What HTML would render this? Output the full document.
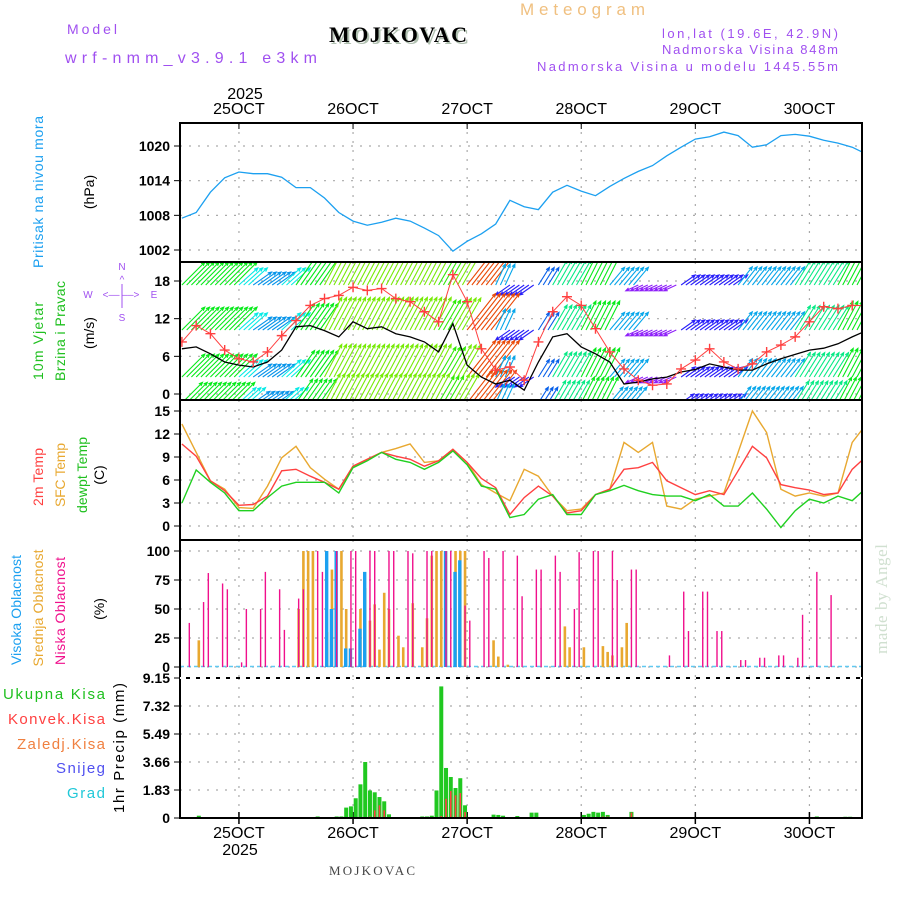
<!DOCTYPE html>
<html><head><meta charset="utf-8"><style>
html,body{margin:0;padding:0;background:#fff;}
svg{display:block;}
text{font-family:"Liberation Sans",sans-serif;}
</style></head><body>
<svg id="chart" width="900" height="900" viewBox="0 0 900 900" xmlns="http://www.w3.org/2000/svg">
<rect width="900" height="900" fill="#fff"/>
<text x="520" y="15" font-size="17" fill="#f0c080" textLength="125">Meteogram</text>
<text x="67" y="34" font-size="14" fill="#a050f0" textLength="50">Model</text>
<text x="65" y="63" font-size="16" fill="#a050f0" textLength="252">wrf-nmm_v3.9.1 e3km</text>
<text x="331" y="44" font-size="22" font-weight="bold" fill="#b0c0b0" style="font-family:'Liberation Serif',serif" textLength="138">MOJKOVAC</text>
<text x="329" y="42" font-size="22" font-weight="bold" fill="#000" style="font-family:'Liberation Serif',serif" textLength="138">MOJKOVAC</text>
<text x="838" y="38" font-size="13" fill="#a050f0" text-anchor="end" textLength="176">lon,lat (19.6E, 42.9N)</text>
<text x="838" y="54" font-size="13" fill="#a050f0" text-anchor="end" textLength="176">Nadmorska Visina 848m</text>
<text x="838" y="71" font-size="13" fill="#a050f0" text-anchor="end" textLength="301">Nadmorska Visina u modelu 1445.55m</text>
<text x="245" y="99" font-size="16" text-anchor="middle">2025</text>
<text x="240" y="855" font-size="16" text-anchor="middle">2025</text>
<text x="372" y="875" font-size="13" fill="#444" text-anchor="middle" style="font-family:'Liberation Serif',serif" textLength="86">MOJKOVAC</text>
<text transform="translate(887,654) rotate(-90)" font-size="17" fill="#d0e0d0" style="font-family:'Liberation Serif',serif" textLength="110">made by Angel</text>

<text transform="translate(43,192) rotate(-90)" font-size="14" fill="#1ca0f0" text-anchor="middle" textLength="152">Pritisak na nivou mora</text>
<text transform="translate(94,192) rotate(-90)" font-size="14" text-anchor="middle">(hPa)</text>
<text transform="translate(43,341) rotate(-90)" font-size="14" fill="#20c020" text-anchor="middle" textLength="78">10m Vjetar</text>
<text transform="translate(65,331) rotate(-90)" font-size="14" fill="#20c020" text-anchor="middle" textLength="100">Brzina i Pravac</text>
<text transform="translate(94,333) rotate(-90)" font-size="14" text-anchor="middle">(m/s)</text>
<g fill="#a050f0" font-size="10">
<text x="122" y="270" text-anchor="middle">N</text>
<text x="122" y="321" text-anchor="middle">S</text>
<text x="88" y="298" text-anchor="middle">W</text>
<text x="154" y="298" text-anchor="middle">E</text>
<text x="121" y="298" text-anchor="middle">&lt;–– ––&gt;</text>
<text x="122" y="283" text-anchor="middle">^</text>
<line x1="122" y1="284" x2="122" y2="308" stroke="#a050f0" stroke-width="1"/>
</g>
<text transform="translate(43,477) rotate(-90)" font-size="14" fill="#ff4040" text-anchor="middle" textLength="58">2m Temp</text>
<text transform="translate(65,475) rotate(-90)" font-size="14" fill="#e8a830" text-anchor="middle" textLength="64">SFC Temp</text>
<text transform="translate(87,475) rotate(-90)" font-size="14" fill="#20c020" text-anchor="middle" textLength="76">dewpt Temp</text>
<text transform="translate(104,475) rotate(-90)" font-size="14" text-anchor="middle">(C)</text>
<text transform="translate(21,610) rotate(-90)" font-size="14" fill="#1ca0f0" text-anchor="middle" textLength="110">Visoka Oblacnost</text>
<text transform="translate(43,608) rotate(-90)" font-size="14" fill="#e8a830" text-anchor="middle" textLength="117">Srednja Oblacnost</text>
<text transform="translate(65,611) rotate(-90)" font-size="14" fill="#f0108c" text-anchor="middle" textLength="108">Niska Oblacnost</text>
<text transform="translate(104,609) rotate(-90)" font-size="14" text-anchor="middle">(%)</text>
<text x="105" y="699" font-size="15" fill="#20c020" text-anchor="end" textLength="102">Ukupna Kisa</text>
<text x="105" y="724" font-size="15" fill="#ff4040" text-anchor="end" textLength="97">Konvek.Kisa</text>
<text x="105" y="749" font-size="15" fill="#f08040" text-anchor="end" textLength="88">Zaledj.Kisa</text>
<text x="105" y="773" font-size="15" fill="#5050f0" text-anchor="end" textLength="49">Snijeg</text>
<text x="105" y="798" font-size="15" fill="#20c8d8" text-anchor="end" textLength="38">Grad</text>
<text transform="translate(124,748) rotate(-90)" font-size="15" text-anchor="middle" textLength="130">1hr Precip (mm)</text>
<g id="plot"></g>
</svg>
<script>
// ---- data (3-hourly, starting 24 OCT 12 UTC) ----
const dayLabels = ["25OCT","26OCT","27OCT","28OCT","29OCT","30OCT"];
const pressure = [1007.5,1008.5,1012,1014.5,1015.5,1015.2,1015.2,1014.6,1012.8,1012.8,1011,1008.5,1007,1006.3,1006.8,1007.5,1007,1005.8,1004.5,1001.8,1003.5,1004.8,1006.5,1010.6,1009.5,1009,1012,1013.2,1012.2,1011.4,1013,1014.4,1015.6,1016.6,1018.3,1019.8,1021.2,1021.6,1022.4,1021.8,1019.8,1020.2,1021.8,1022,1021.7,1021,1020.5,1019.8,1018.6];
const pressureTicks = [1002,1008,1014,1020];
const windSpeed = [7.2,7.5,6.4,5.1,4.6,4.3,5.1,7.0,10.7,10.9,10.1,9.1,11.5,10.4,10.7,9.6,9.1,8.3,6.7,11.2,4.6,2.7,1.6,2.2,0.6,5.1,9.1,9.6,7.5,6.4,5.1,1.6,1.9,2.4,2.7,3.5,3.9,4.8,4.3,3.8,3.8,4.8,5.6,6.3,7.0,7.3,8.0,9.1,10.1];
const windGust = [8.3,10.9,9.6,7.0,5.6,5.1,6.7,9.3,11.7,14.1,15.2,15.7,17.0,16.5,16.8,15.2,14.7,13.1,11.5,19.0,14.7,7.2,3.8,4.3,2.2,8.3,13.1,15.5,14.1,10.4,6.7,4.0,2.2,1.4,1.6,4.0,5.4,7.2,5.1,4.0,4.8,6.7,7.8,9.1,11.5,13.9,13.6,14.1,14.1];
const arrowDir = [45,45,45,45,48,55,55,48,35,35,28,28,28,28,28,28,28,28,30,30,38,38,25,235,235,32,30,30,27,27,40,40,245,245,245,55,55,55,55,38,38,38,38,32,32,32,28,28,28];
const arrowSpd = [10.8,10.8,10.8,10.8,8.5,7.5,7.5,8.5,10.8,10.8,12.3,12.3,12.3,12.3,12.3,12.3,12.3,12.3,11.5,12.3,15.4,15.4,7.7,5.8,5.8,6.9,9.6,9.6,10.8,10.8,7.7,7.7,4.6,4.6,4.6,5.8,5.8,5.8,5.8,7.7,7.7,7.7,7.7,9.6,9.6,9.6,10.8,10.8,10.8];
const windTicks = [0,6,12,18];
const temp2m = [10.7,9.1,5.9,4.6,2.7,2.8,3.9,7.2,7.4,6.5,5.7,4.8,7.8,8.7,9.6,9.1,8.7,7.8,8.5,10,8.3,6.2,5.0,1.5,3.7,5.2,3.9,1.7,2.0,4.1,4.8,7.4,7.6,8.3,5.9,5.0,4.1,4.6,4.1,7.2,10.4,8.9,5.4,5.0,4.7,4.1,4.3,7.4,9.1];
const tempSfc = [13.3,9.6,5.9,4.8,2.4,2.3,5.2,8.9,10.4,7.6,6.1,4.8,7.8,8.7,9.6,10.1,10.7,8.3,8.5,10,8.3,5.4,4.3,3.3,7.4,6.5,3.9,2.0,2.2,4.1,4.8,10.9,9.6,10.9,2.6,2.2,3.5,3.9,4.3,9.6,15,12.2,4.8,3.9,4.3,3.9,4.3,10.9,13.3];
const tempDew = [3.0,7.3,5.7,4.3,2.0,2.0,3.7,5.2,5.7,5.7,5.7,4.3,7.6,8.5,9.6,8.7,8.3,7.4,8.3,9.8,8.0,5.2,4.8,1.1,1.5,3.5,4.1,1.5,1.5,4.1,4.6,5.3,4.6,4.1,3.9,3.9,3.3,4.1,2.6,2.6,4.3,2.2,-0.2,2.0,3.5,3.0,3.9,3.3,5.0];
const tempTicks = [0,3,6,9,12,15];
// ---- cloud (hourly index, percent) ----
const lowHour = [2,5,6,9,10,13,14,17,18,21,22,25,26,29,30,33,36,37,40,41,44,45,48,49,52,53,56,57,60,61,64,65,68,71,72,75,76,79,80,83,84,87,88,91,92,95,96,103,106,107,110,111,113,114,118,119,122,123,126,127,130,131,134,137];
const lowPct = [38,56,81,72,67,4,50,50,82,67,32,59,67,100,82,100,100,100,100,100,100,100,100,98,100,100,100,100,53,40,100,94,100,96,61,84,84,96,82,50,99,100,100,100,75,84,84,10,65,31,65,65,31,31,6,6,8,8,10,10,8,45,82,62];
const midHour = [4,25,26,27,28,31,32,34,35,38,39,40,41,42,43,44,46,47,49,51,52,53,54,55,56,58,59,60,66,67,69,81,82,85,89,90,91,93,94];
const midPct = [23,50,100,100,100,30,84,100,50,50,68,40,54,15,64,50,27,17,55,17,42,96,100,100,100,100,100,100,23,9,2,35,17,17,18,13,10,17,38];
const highHour = [31,32,33,35,36,38,39,56,58,59];
const highPct = [100,50,100,16,16,33,82,100,82,92];
const cloudTicks = [0,25,50,75,100];
// ---- precipitation (hourly index, mm) ----
const rainHour = [4,29,32,33,34,35,36,37,38,39,40,41,42,43,44,51,52,53,54,55,56,57,58,59,60,66,67,68,71,74,75,85,86,87,88,89,90,95,134,140,141];
const rainTotal = [0.15,0.1,0.05,0.1,0.1,0.68,0.76,1.29,2.2,3.66,1.8,1.68,1.37,1.09,0.24,0.1,0.1,0.15,1.8,8.6,3.27,2.68,1.96,2.6,0.83,0.22,0.2,0.15,0.13,0.35,0.35,0.2,0.28,0.4,0.35,0.4,0.2,0.4,0.1,0.08,0.08];
const convHour = [40,41,42,43,55,56,57,58,59,60,89,90,95];
const convTotal = [0.1,0.5,0.83,0.5,0.13,1.26,1.76,1.48,1.63,0.39,0.1,0.1,0.35];
const precipTicks = [0,1.83,3.66,5.49,7.32,9.15];

// ---- scales ----
const X0=180, X1=862;
function xH(h){return 181.9+h*4.754;}
function xC(h){return 179.8+h*4.754;}
function yP(v){return 146+(1020-v)*34.67/6;}
function yW(v){return 394-v*113/18;}
function yT(v){return 526-v*115/15;}
function yC(v){return 667-v*1.16;}
function yR(v){return 818-v*140/9.15;}
const NS="http://www.w3.org/2000/svg";
const plot=document.getElementById('plot');
function el(tag,attrs,parent){const e=document.createElementNS(NS,tag);for(const k in attrs)e.setAttribute(k,attrs[k]);(parent||plot).appendChild(e);return e;}

const panels=[
 {name:'pressure-panel',y0:123,y1:262,ticks:pressureTicks,f:yP,fmt:v=>String(v)},
 {name:'wind-panel',y0:262,y1:400,ticks:windTicks,f:yW,fmt:v=>String(v)},
 {name:'temp-panel',y0:400,y1:540,ticks:tempTicks,f:yT,fmt:v=>String(v)},
 {name:'cloud-panel',y0:540,y1:678,ticks:cloudTicks,f:yC,fmt:v=>String(v)},
 {name:'precip-panel',y0:678,y1:818,ticks:precipTicks,f:yR,fmt:v=>v===0?'0':v.toFixed(2)}
];
const defs=el('defs',{});
panels.forEach((p,i)=>{const c=el('clipPath',{id:'clip'+i},defs);el('rect',{x:X0,y:p.y0,width:X1-X0,height:p.y1-p.y0},c);});

panels.forEach((p,i)=>{
  const g=el('g',{});
  
  
  p.ticks.forEach(v=>{
    const y=p.f(v);
    if(!(i===4&&(v===0||v===9.15))){
      const gl=el('line',{x1:X0,x2:X1,y1:y,y2:y,stroke:'#aaa','stroke-width':1.2,'stroke-dasharray':'2,7'},g);
      
      
    }
    el('line',{x1:174,x2:X0,y1:y,y2:y,stroke:'#000','stroke-width':1},g);
    const t=el('text',{x:170,y:y+5,'font-size':14,'text-anchor':'end','font-weight':'bold',fill:'#000'},g);
    
    
    t.textContent=p.fmt(v);
  });
  dayLabels.forEach((d,j)=>{
    const x=xH(12+24*j);
    const vl=el('line',{x1:x,x2:x,y1:p.y0,y2:p.y1,stroke:'#aaa','stroke-width':1.2,'stroke-dasharray':'2,7'},g);
    
    
  });
});

dayLabels.forEach((d,j)=>{
  const x=xH(12+24*j);
  el('line',{x1:x,x2:x,y1:123,y2:129,stroke:'#000'});
  el('line',{x1:x,x2:x,y1:812,y2:824,stroke:'#000','stroke-width':1.5});
  const t=el('text',{x:x,y:114,'font-size':16,'text-anchor':'middle'});
  
  
  t.textContent=d;
  const b=el('text',{x:x,y:838,'font-size':16,'text-anchor':'middle'});
  
  
  b.textContent=d;
});

function line(arr,fy,color,name,clip,w){
  const pts=arr.map((v,k)=>xH(3*k).toFixed(1)+','+fy(v).toFixed(1)).join(' ');
  const pl=el('polyline',{points:pts,fill:'none',stroke:color,'stroke-width':w||1.4,'clip-path':'url(#clip'+clip+')'});
  
  
  return pl;
}
line(pressure,yP,'#1ca0f0','pressure-line',0,1.3);

// wind arrows
function hueFor(s){const l=s*2.6;let h=270-(l-12)*9;if(h<0)h=0;if(h>275)h=275;return 'hsl('+h+',95%,'+(h>230?55:47)+'%)';}
const rowBase=[285,330,377,403];
const rowMul=[1,1,1,0.9];
const ag=el('g',{'clip-path':'url(#clip1)'});


rowBase.forEach((by,r)=>{
  arrowDir.forEach((dir,k)=>{
    const len=arrowSpd[k]*3.0*rowMul[r];
    const a=dir*Math.PI/180;
    const dx=Math.sin(a)*len, dy=-Math.cos(a)*len;
    const col=hueFor(arrowSpd[k]);
    for(let s=0;s<3;s++){
      const x=xH(3*k+s), x2=x+dx, y2=by+dy;
      const ar=el('path',{d:'',stroke:col,'stroke-width':1.1,fill:'none'},ag);
      const hx1=x2-(Math.sin(a-0.4)*4), hy1=y2+Math.cos(a-0.4)*4;
      const hx2=x2-(Math.sin(a+0.4)*4), hy2=y2+Math.cos(a+0.4)*4;
      ar.setAttribute('d','M'+x.toFixed(1)+','+by+' L'+x2.toFixed(1)+','+y2.toFixed(1)+' M'+hx1.toFixed(1)+','+hy1.toFixed(1)+' L'+x2.toFixed(1)+','+y2.toFixed(1)+' L'+hx2.toFixed(1)+','+hy2.toFixed(1));
      
      
    }
  });
});
line(windSpeed,yW,'#000','wind-speed-line',1,1.3);
line(windGust,yW,'#ff4040','wind-gust-line',1,1);
windGust.forEach((v,k)=>{
  const x=xH(3*k), y=yW(v);
  const c=el('path',{d:'M'+(x-5)+','+y+' h10 M'+x+','+(y-5)+' v10',stroke:'#ff4040','stroke-width':1.4,'clip-path':'url(#clip1)'});
  
  
});

line(tempSfc,yT,'#e8a830','sfc-temp-line',2,1.4);
line(temp2m,yT,'#ff4040','2m-temp-line',2,1.4);
line(tempDew,yT,'#20d020','dewpoint-line',2,1.4);

el('line',{x1:X0,x2:X1,y1:666.5,y2:666.5,stroke:'#60c8f0','stroke-width':1.5,'stroke-dasharray':'4,3'});
function cloudBars(hours,vals,color,w,name,off){
  hours.forEach((h,i)=>{
    const x=xC(h)+off, y=yC(vals[i]);
    const r=el('rect',{x:x-w/2,y:y,width:w,height:667-y,fill:color});
    
    
  });
}
cloudBars(midHour,midPct,'#e8a830',2.6,'cloud-mid-bar',0);
cloudBars(highHour,highPct,'#1ca0f0',3.4,'cloud-high-bar',-0.5);
cloudBars(lowHour,lowPct,'#f0108c',1.4,'cloud-low-bar',0);

function precipBars(hours,vals,color,w,name){
  hours.forEach((h,i)=>{
    const x=xC(h), y=yR(vals[i]);
    const r=el('rect',{x:x-w/2,y:y,width:w,height:818-y,fill:color});
    
    
  });
}
precipBars(rainHour,rainTotal,'#20c820',4,'precip-total-bar');
precipBars(convHour,convTotal,'#ff4040',1.6,'precip-conv-bar');

panels.forEach((p,i)=>{
  const b=el('rect',{x:X0,y:p.y0,width:X1-X0,height:p.y1-p.y0,fill:'none',stroke:'#000','stroke-width':2});
  
  
});
el('line',{x1:X0,x2:X1,y1:678,y2:678,stroke:'#fff','stroke-width':2,'stroke-dasharray':'6,4'});
</script>
</body></html>
